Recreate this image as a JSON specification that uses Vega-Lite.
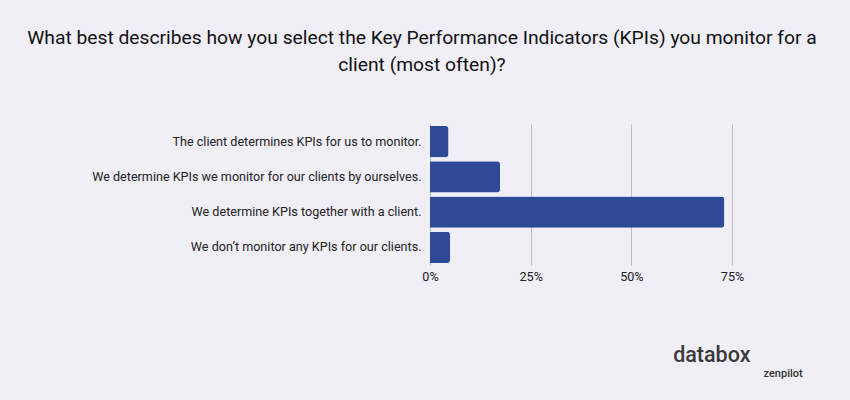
{
  "$schema": "https://vega.github.io/schema/vega-lite/v6.json",
  "autosize": "none",
  "width": 302,
  "height": 141,
  "padding": {"left": 430, "top": 124, "right": 118, "bottom": 135},
  "background": "#f0eef7",
  "title": {
    "text": ["What best describes how you select the Key Performance Indicators (KPIs) you monitor for a", "client (most often)?"],
    "font": "Roboto",
    "fontSize": 19.25,
    "fontWeight": "normal",
    "color": "#111111",
    "lineHeight": 27,
    "anchor": "middle",
    "dx": -159,
    "offset": 49
  },
  "data": {
    "values": [
      {"answer": "The client determines KPIs for us to monitor.", "pct": 4.6},
      {"answer": "We determine KPIs we monitor for our clients by ourselves.", "pct": 17.4},
      {"answer": "We determine KPIs together with a client.", "pct": 73.1},
      {"answer": "We don’t monitor any KPIs for our clients.", "pct": 5.0}
    ]
  },
  "mark": {"type": "bar", "color": "#2e4a97", "cornerRadiusEnd": 3},
  "encoding": {
    "y": {
      "field": "answer",
      "type": "nominal",
      "sort": null,
      "scale": {"paddingInner": 0.12, "paddingOuter": 0.06},
      "axis": {
        "title": "zenpilot",
        "titleAngle": 0,
        "titleX": 333,
        "titleY": 252,
        "titleAlign": "left",
        "titleBaseline": "alphabetic",
        "titleFont": "Roboto",
        "titleFontSize": 11,
        "titleFontWeight": 500,
        "titleColor": "#333333",
        "domain": false,
        "ticks": false,
        "labelPadding": 9,
        "labelFont": "Roboto",
        "labelFontSize": 12.6,
        "labelColor": "#222222",
        "labelLimit": 400
      }
    },
    "x": {
      "field": "pct",
      "type": "quantitative",
      "scale": {"domain": [0, 75], "nice": false},
      "axis": {
        "title": "databox",
        "titleAnchor": "end",
        "titleAlign": "right",
        "titleX": 320,
        "titleY": 96,
        "titleBaseline": "alphabetic",
        "titleFont": "Roboto",
        "titleFontSize": 21.5,
        "titleFontWeight": 500,
        "titleColor": "#3a3a3a",
        "values": [0, 25, 50, 75],
        "labelExpr": "datum.value + '%'",
        "labelFlush": false,
        "domain": false,
        "ticks": false,
        "labelPadding": 5,
        "labelFont": "Roboto",
        "labelFontSize": 12.6,
        "labelColor": "#222222",
        "grid": true,
        "gridColor": "#bdbdbd",
        "gridWidth": 1
      }
    }
  },
  "config": {"view": {"stroke": null}}
}
